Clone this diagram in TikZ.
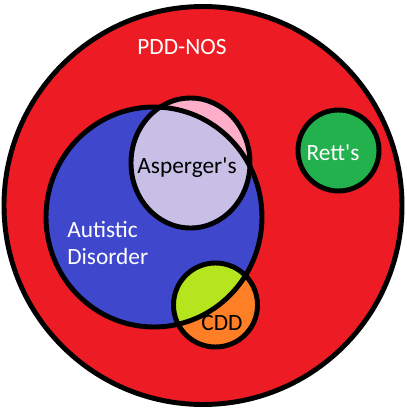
\documentclass[tikz,border=0pt]{standalone}
\usepackage{fontspec}
\setmainfont{Carlito}
\definecolor{pddred}{HTML}{ED1C24}
\definecolor{autblue}{HTML}{3F48CC}
\definecolor{asplav}{HTML}{C8BFE7}
\definecolor{asppink}{HTML}{FFAEC9}
\definecolor{rettgreen}{HTML}{22B14C}
\definecolor{cddlime}{HTML}{B5E61D}
\definecolor{cddorange}{HTML}{FF7F27}
\tikzset{
  ring/.style={draw=black, line width=3.7pt},
  lbl/.style={font=\fontsize{17.5}{20}\selectfont, inner sep=0pt},
}
\begin{document}
\begin{tikzpicture}[x=0.75pt,y=-0.75pt]
\useasboundingbox (0,0) rectangle (407,411);
\fill[white] (0,0) rectangle (407,411);
% PDD-NOS
\fill[pddred] (203,205.5) circle[radius=199];
\draw[ring] (203,205.5) circle[radius=199];
% Autistic disorder
\fill[autblue] (154,217) ellipse[x radius=108, y radius=110];
% Asperger's
\fill[asppink] (190.5,163) ellipse[x radius=59.5, y radius=65];
\begin{scope}
  \clip (154,217) ellipse[x radius=108, y radius=110];
  \fill[asplav] (190.5,163) ellipse[x radius=59.5, y radius=65];
\end{scope}
% CDD
\fill[cddorange] (215.5,305) circle[radius=42];
\begin{scope}
  \clip (154,217) ellipse[x radius=108, y radius=110];
  \fill[cddlime] (215.5,305) circle[radius=42];
\end{scope}
% Rett's
\fill[rettgreen] (338.5,150.5) circle[radius=40.5];
% outlines
\draw[ring] (154,217) ellipse[x radius=108, y radius=110];
\draw[ring] (190.5,163) ellipse[x radius=59.5, y radius=65];
\draw[ring] (215.5,305) circle[radius=42];
\draw[ring] (338.5,150.5) circle[radius=40.5];
% labels
\node[lbl, text=white] (pdd) at (182,47) {PDD-NOS};
\node[lbl, text=black] (asp) at (187,168) {Asperger\textquotesingle s};
\node[lbl, text=white] (rett) at (333,153) {Rett\textquotesingle s};
\node[lbl, text=white, anchor=west, align=left] (aut) at (67,243) {Autistic\\Disorder};
\node[lbl, text=black] (cdd) at (222,323) {CDD};
\end{tikzpicture}
\end{document}
